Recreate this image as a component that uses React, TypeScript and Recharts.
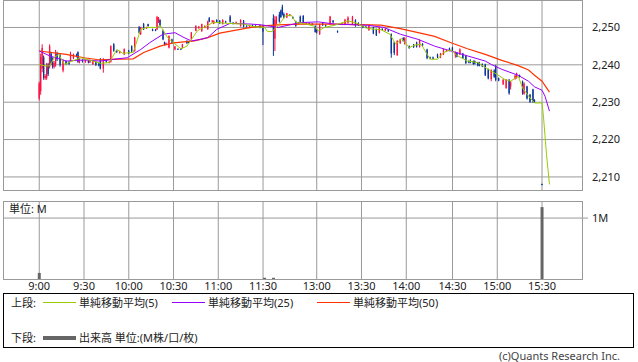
import { Bar, CartesianGrid, ComposedChart, Line, XAxis, YAxis } from 'recharts';

const timeLabels = ['9:00', '9:30', '10:00', '10:30', '11:00', '11:30', '13:00', '13:30', '14:00', '14:30', '15:00', '15:30'];
const timeSlots = [0, 30, 60, 90, 120, 150, 186, 216, 246, 277, 307, 337];
const priceTicks = [2210, 2220, 2230, 2240, 2250];
const slotDomain: [number, number] = [-24.3, 363.8];
const priceDomain: [number, number] = [2206.5, 2257.35];

// [slot, open, high, low, close]
const amCandles: number[][] = [
  [0, 2231, 2235.5, 2230.5, 2235], [1, 2233, 2243, 2232, 2242], [2, 2239, 2245.5, 2238, 2244.5],
  [3, 2242, 2242.5, 2236, 2236.5], [4, 2236.5, 2237.5, 2236, 2237], [5, 2236.5, 2240.5, 2236, 2240],
  [6, 2240, 2240.5, 2237, 2237.5], [7, 2239.5, 2245.5, 2239, 2245], [8, 2243, 2243.5, 2240, 2240.5],
  [9, 2241, 2242, 2239, 2239.5], [10, 2239.5, 2241, 2239, 2240.5], [11, 2240, 2244, 2239.5, 2243],
  [12, 2243, 2243.5, 2241, 2241.5], [14, 2242.5, 2243, 2239.5, 2240], [16, 2238.5, 2241.5, 2238, 2241],
  [18, 2241, 2241.2, 2240, 2240.3], [20, 2240.8, 2241, 2240, 2240.2], [21, 2241, 2243.5, 2240.8, 2243],
  [23, 2241.8, 2243, 2241.5, 2242.8], [25, 2242.5, 2243, 2242, 2242.2], [26, 2243.4, 2243.6, 2240.5, 2240.8],
  [27, 2240.6, 2241.8, 2240.4, 2241.5], [29, 2241.2, 2241.5, 2240.6, 2241], [31, 2240.8, 2241.4, 2240.5, 2241.2],
  [33, 2241, 2241.3, 2240.4, 2240.6], [34, 2240.6, 2241.4, 2240.5, 2241.2], [36, 2240.1, 2241.2, 2240, 2241],
  [38, 2240.8, 2241, 2239.7, 2240], [40, 2240.4, 2240.6, 2239.6, 2239.8], [41, 2241.5, 2241.8, 2238.8, 2239],
  [43, 2239, 2241.8, 2237.9, 2241.5], [45, 2241.2, 2241.4, 2240.6, 2240.8], [47, 2240.6, 2241, 2240.4, 2240.8],
  [48, 2240.8, 2245.2, 2240.6, 2245], [50, 2245.5, 2245.8, 2243.5, 2243.8], [52, 2243.8, 2244, 2243.2, 2243.4],
  [54, 2243.2, 2243.8, 2243, 2243.6], [57, 2242.8, 2244.4, 2242.6, 2244.2], [60, 2243.8, 2244, 2242.8, 2243],
  [62, 2245, 2245.2, 2243.2, 2243.6], [64, 2243.7, 2247.5, 2243.5, 2247.3], [67, 2250, 2250.4, 2248.4, 2248.6],
  [68, 2248.2, 2250.2, 2248, 2250], [70, 2250.9, 2251.2, 2249.3, 2249.5], [72, 2249.8, 2250.2, 2249.6, 2250],
  [73, 2250.9, 2251, 2250.2, 2250.4], [76, 2249.5, 2249.7, 2249, 2249.1], [78, 2249.4, 2249.6, 2249, 2249.1],
  [79, 2249.5, 2253.1, 2249.3, 2252.8], [80, 2251.5, 2252.8, 2251.2, 2252.5], [81, 2252, 2252.2, 2250.2, 2250.4],
  [83, 2249.1, 2249.4, 2246.6, 2246.8], [84, 2246, 2246.2, 2245.2, 2245.4], [85, 2245.4, 2246, 2245.2, 2245.8],
  [87, 2244.6, 2247.9, 2244.4, 2247.7], [89, 2246.8, 2247, 2245.6, 2245.9], [91, 2244.1, 2245.1, 2243.9, 2244.9],
  [93, 2244.3, 2244.4, 2244, 2244.1], [95, 2244.3, 2244.4, 2244, 2244.1], [96, 2244.6, 2245.6, 2244.4, 2245.5],
  [99, 2246.4, 2246.6, 2245.6, 2245.8], [100, 2246.2, 2246.4, 2245.8, 2246], [102, 2246.8, 2248.8, 2246.6, 2248.6],
  [105, 2249.1, 2250.6, 2249, 2250.4], [107, 2250, 2250.4, 2249.6, 2250.2], [109, 2249.1, 2251, 2248.8, 2250.9],
  [111, 2250, 2250.6, 2249.8, 2250.4], [113, 2249.5, 2251.8, 2249.4, 2251.6], [114, 2252.5, 2252.8, 2251.4, 2251.6],
  [116, 2251.6, 2252, 2251.2, 2251.8], [117, 2251, 2251.9, 2250.9, 2251.8], [119, 2252, 2252.2, 2251.2, 2251.4],
  [121, 2251.8, 2252, 2250.9, 2251.1], [123, 2250.9, 2252.2, 2250.8, 2252], [125, 2251.6, 2251.8, 2251.2, 2251.3],
  [128, 2252.9, 2253.3, 2251.3, 2251.5], [130, 2251.3, 2251.4, 2250.8, 2251], [132, 2251, 2251.6, 2250.9, 2251.4],
  [135, 2250.4, 2252.2, 2250.2, 2252], [137, 2251.8, 2252, 2250, 2250.2], [139, 2250.4, 2250.6, 2250, 2250.2],
  [141, 2250, 2250.6, 2249.8, 2250.4], [143, 2250.6, 2250.8, 2250.2, 2250.4], [145, 2250.5, 2250.6, 2250, 2250.2],
  [148, 2250.5, 2250.7, 2249.8, 2250], [150, 2250.4, 2250.6, 2245.3, 2248.9],
];

const pmCandles: number[][] = [
  [157, 2252.5, 2253.5, 2242.4, 2249], [158, 2247, 2253.1, 2243.7, 2252], [159, 2251, 2253, 2250.8, 2252.8],
  [161, 2253.5, 2254.2, 2251.3, 2251.6], [162, 2254.5, 2254.8, 2252.5, 2252.8], [163, 2255.5, 2256.1, 2253.2, 2253.6],
  [164, 2253.6, 2254, 2252.4, 2252.7], [166, 2252.7, 2253.9, 2252.5, 2253.8], [168, 2253.2, 2253.6, 2253, 2253.5],
  [170, 2252.8, 2253, 2252.3, 2252.5], [172, 2251.6, 2251.8, 2250.2, 2250.4], [174, 2251, 2251.5, 2250.8, 2251.3],
  [175, 2252.9, 2253.2, 2251.3, 2251.5], [177, 2253.1, 2253.3, 2251.1, 2251.3], [179, 2251.1, 2251.4, 2250.9, 2251.2],
  [181, 2251.1, 2251.3, 2250.7, 2250.9], [183, 2251, 2251.2, 2250.8, 2250.9], [185, 2250.4, 2250.6, 2248.6, 2248.8],
  [186, 2249.5, 2249.7, 2248.4, 2248.7], [188, 2248.2, 2251, 2248, 2250.9], [190, 2251.3, 2251.4, 2250.4, 2250.6],
  [192, 2250.6, 2250.8, 2250.2, 2250.4], [195, 2250.9, 2253.1, 2250.6, 2252.9], [197, 2251.8, 2252, 2251.2, 2251.4],
  [200, 2249, 2249.2, 2248.6, 2248.7], [203, 2250.8, 2251.2, 2250.6, 2251], [205, 2250.9, 2252.3, 2250.6, 2252.1],
  [207, 2251.3, 2253, 2251, 2252.6], [210, 2250.9, 2253.1, 2250.7, 2252.9], [212, 2252, 2252.2, 2250.2, 2250.4],
  [214, 2251.2, 2251.4, 2250.4, 2250.6], [217, 2250.4, 2250.6, 2249.8, 2250], [219, 2250.2, 2250.4, 2249.8, 2250],
  [221, 2249.3, 2250.8, 2249.1, 2250.6], [224, 2250, 2250.2, 2248.2, 2248.4], [226, 2249.5, 2249.7, 2247.7, 2247.9],
  [228, 2248.6, 2250.2, 2248.4, 2250], [230, 2249.6, 2249.8, 2249.2, 2249.4], [232, 2249.2, 2249.8, 2249, 2249.6],
  [234, 2249.4, 2249.6, 2248.8, 2249], [236, 2248.2, 2248.4, 2241.9, 2243], [238, 2246, 2246.2, 2242.6, 2243.2],
  [240, 2242.6, 2246.6, 2242.4, 2246.4], [242, 2245.8, 2247, 2245.6, 2246.8], [244, 2247.2, 2247.4, 2246.2, 2246.4],
  [245, 2245.6, 2247.4, 2245.4, 2247.2], [248, 2245, 2245.2, 2244.3, 2244.5], [251, 2245.4, 2245.6, 2244.5, 2244.8],
  [253, 2246, 2246.2, 2244.6, 2244.8], [255, 2244.8, 2246.8, 2244.6, 2246.6], [257, 2245.6, 2245.8, 2245, 2245.2],
  [260, 2244.1, 2244.3, 2241.5, 2241.8], [262, 2242, 2242.2, 2241.5, 2241.7], [264, 2242, 2242.2, 2241.5, 2241.6],
  [267, 2242.8, 2243, 2241.8, 2242], [269, 2242, 2243.2, 2241.8, 2243], [271, 2242.8, 2244.3, 2242.6, 2244.1],
  [273, 2243.6, 2244, 2243.4, 2243.8], [275, 2244.4, 2244.6, 2243.6, 2243.8], [277, 2244.6, 2244.8, 2243.6, 2243.8],
  [279, 2242.5, 2243.6, 2241.9, 2243.2], [280, 2243.2, 2243.4, 2242, 2242.2], [282, 2242.8, 2244.4, 2242.6, 2244.1],
  [284, 2243, 2243.2, 2241.6, 2241.8], [286, 2242.4, 2242.6, 2240.2, 2240.5], [288, 2241, 2241.2, 2240.4, 2240.6],
  [289, 2241, 2241.5, 2240.4, 2240.6], [291, 2241, 2241.2, 2240, 2240.2], [292, 2241, 2241.2, 2240.1, 2240.3],
  [294, 2240.6, 2240.8, 2239.6, 2239.8], [295, 2240.6, 2240.8, 2239.6, 2239.8], [297, 2240.2, 2240.4, 2239.4, 2239.6],
  [299, 2240.1, 2240.3, 2237, 2237.2], [301, 2238.8, 2239, 2236.1, 2236.4], [303, 2236.2, 2238.8, 2235.6, 2238.6],
  [305, 2238.5, 2238.8, 2236.5, 2236.8], [306, 2239.7, 2240, 2235.6, 2236], [308, 2236.4, 2236.6, 2235.6, 2235.8],
  [311, 2234.8, 2236.2, 2234.6, 2236], [313, 2233.8, 2236.2, 2233.6, 2236], [315, 2236, 2236.2, 2232, 2232.4],
  [316, 2234.2, 2235.7, 2233.4, 2235.4], [319, 2236.3, 2237.3, 2236, 2237.1], [320, 2236.5, 2237.9, 2236.3, 2237.7],
  [322, 2237.2, 2237.4, 2236.6, 2236.8], [324, 2235.6, 2235.8, 2232, 2232.4], [325, 2232.2, 2235.3, 2232, 2235],
  [327, 2234.2, 2234.4, 2230.7, 2231], [329, 2232, 2232.2, 2229.8, 2230.1], [331, 2233.4, 2233.6, 2229.8, 2230.2],
  [332, 2230.6, 2230.8, 2229.8, 2230], [337, 2208.1, 2208.2, 2207.8, 2207.9],
];

const ma5Slots = [0, 4, 7, 10, 13, 17, 22, 28, 36, 41, 47, 52, 56, 63, 68, 72, 79, 81, 86, 90, 95, 99, 106, 112, 117, 126, 137, 144, 151, 153, 156, 160, 165, 169, 172, 177, 184, 187, 191, 198, 207, 213, 220, 229, 235, 239, 243, 248, 252, 256, 262, 267, 271, 276, 280, 287, 294, 301, 307, 312, 316, 321, 324, 328, 332, 337, 338, 339, 340, 341, 342];
const ma5Values = [2240.1, 2239.7, 2239.7, 2241.9, 2242.8, 2240.1, 2241, 2241.9, 2241, 2240.4, 2240.6, 2244.1, 2243.1, 2243.3, 2249.5, 2250, 2250, 2250.6, 2247.3, 2245.9, 2244.3, 2245, 2249.1, 2250.4, 2251.4, 2251.1, 2250.9, 2250.2, 2250, 2248.9, 2248.9, 2250.4, 2253.1, 2253.3, 2251.3, 2251.1, 2250.4, 2249.1, 2250, 2250.6, 2251.8, 2251.1, 2249.7, 2249.4, 2248.2, 2245.5, 2247, 2244.6, 2245.3, 2245.5, 2241.5, 2241.5, 2243.3, 2244, 2242.5, 2241, 2240.6, 2238.8, 2237.4, 2236.1, 2235.6, 2237, 2233.8, 2231.6, 2229.8, 2229.8, 2226, 2221, 2216, 2212, 2208];

const ma25Slots = [0, 7, 18, 30, 41, 50, 59, 68, 74, 83, 91, 97, 102, 108, 113, 119, 128, 142, 149, 160, 175, 187, 198, 220, 231, 242, 254, 265, 276, 287, 299, 303, 310, 321, 328, 332, 337, 339, 342];
const ma25Values = [2243.7, 2242.4, 2241, 2241.3, 2241, 2241.5, 2241.9, 2244.1, 2245.9, 2248.2, 2248.6, 2247.3, 2246.4, 2246.8, 2247.3, 2249.5, 2251.1, 2250.9, 2250.7, 2250, 2251.3, 2251.5, 2250.9, 2250.6, 2250, 2248.2, 2246.8, 2245, 2243.7, 2242.4, 2241, 2240.1, 2238.8, 2237.2, 2235.6, 2234.1, 2233.2, 2231.6, 2227.6];

const ma50Slots = [0, 18, 30, 41, 54, 63, 70, 81, 90, 104, 113, 121, 142, 150, 160, 175, 198, 229, 242, 254, 265, 276, 287, 299, 310, 321, 328, 332, 337, 342];
const ma50Values = [2243.7, 2242.8, 2241.9, 2241.3, 2241.5, 2241.6, 2243.3, 2245, 2245.9, 2246.4, 2247.3, 2248.5, 2250, 2250.4, 2250.7, 2250.9, 2250.9, 2250.6, 2249.7, 2248.6, 2247.6, 2245.9, 2244.3, 2242.8, 2241.2, 2239.8, 2238.6, 2237.2, 2235.6, 2232.7];

const volumeSlots = [0, 151, 157, 337];
const volumeValues = [0.1, 0.02, 0.02, 1.18];

const UP = '#ff1040';
const DOWN = '#0a3399';
const GRID = '#9a9a9a';

type Row = { slot: number; range?: [number, number]; o?: number; c?: number; ma5?: number; ma25?: number; ma50?: number };

const rowMap = new Map<number, Row>();
const rowAt = (s: number) => {
  let r = rowMap.get(s);
  if (!r) {
    r = { slot: s };
    rowMap.set(s, r);
  }
  return r;
};
[...amCandles, ...pmCandles].forEach(([s, o, h, l, c]) => {
  const r = rowAt(s);
  r.range = [l, h];
  r.o = o;
  r.c = c;
});
ma5Slots.forEach((s, i) => (rowAt(s).ma5 = ma5Values[i]));
ma25Slots.forEach((s, i) => (rowAt(s).ma25 = ma25Values[i]));
ma50Slots.forEach((s, i) => (rowAt(s).ma50 = ma50Values[i]));
const priceRows = [...rowMap.values()].sort((a, b) => a.slot - b.slot);

const volumeRows = volumeSlots.map((s, i) => ({ slot: s, vol: volumeValues[i] }));

function Candle(props: any) {
  const { x, y, width, height, payload } = props;
  if (!payload || payload.o == null || payload.range == null) return null;
  const [lo, hi] = payload.range;
  const top = Math.min(y, y + height);
  const h = Math.abs(height);
  const py = (v: number) => (hi === lo ? top : top + ((hi - v) / (hi - lo)) * h);
  const color = payload.c >= payload.o ? UP : DOWN;
  const cx = x + width / 2;
  const bTop = py(Math.max(payload.o, payload.c));
  const bBot = py(Math.min(payload.o, payload.c));
  return (
    <g>
      <line x1={cx} x2={cx} y1={top} y2={top + Math.max(h, 1)} stroke={color} strokeWidth={1} />
      <rect x={x} y={bTop} width={width} height={Math.max(1, bBot - bTop)} fill={color} />
    </g>
  );
}

const slotLabel = (v: number) => {
  const i = timeSlots.indexOf(v);
  return i >= 0 ? timeLabels[i] : '';
};

const tickStyle = { fontSize: 11, fill: '#222' };

export default function App() {
  return (
    <div
      style={{
        position: 'absolute',
        left: 0,
        top: 0,
        width: 638,
        height: 362,
        background: '#fff',
        fontFamily: '"Noto Sans", "Noto Sans CJK JP", sans-serif',
        color: '#222',
        fontSize: 11,
      }}
    >
      <div style={{ position: 'absolute', left: 0, top: 0 }}>
        <ComposedChart width={638} height={191} data={priceRows} margin={{ top: 0, right: 0, bottom: 1, left: 3 }}>
          <CartesianGrid stroke={GRID} verticalValues={timeSlots} horizontalValues={priceTicks} />
          <XAxis dataKey="slot" type="number" domain={slotDomain} ticks={timeSlots} hide allowDataOverflow />
          <YAxis
            orientation="right"
            width={56}
            domain={priceDomain}
            ticks={priceTicks}
            allowDataOverflow
            axisLine={false}
            tickLine={false}
            tickSize={6}
            tickMargin={4}
            tick={{ ...tickStyle, textAnchor: 'start' }}
            tickFormatter={(v) => v.toLocaleString('en-US')}
          />
          <Bar dataKey="range" barSize={2} shape={<Candle />} isAnimationActive={false} />
          <Line type="linear" dataKey="ma50" stroke="#ff3300" strokeWidth={1.2} dot={false} connectNulls isAnimationActive={false} />
          <Line type="linear" dataKey="ma25" stroke="#9900ff" strokeWidth={1} dot={false} connectNulls isAnimationActive={false} />
          <Line type="linear" dataKey="ma5" stroke="#99cc00" strokeWidth={1} dot={false} connectNulls isAnimationActive={false} />
        </ComposedChart>
        <div style={{ position: 'absolute', left: 3, top: 0, width: 580, height: 191, border: `1px solid ${GRID}`, boxSizing: 'border-box', pointerEvents: 'none' }} />
      </div>

      <div style={{ position: 'absolute', left: 0, top: 201 }}>
        <ComposedChart width={638} height={100} data={volumeRows} margin={{ top: 0, right: 0, bottom: 0, left: 3 }}>
          <CartesianGrid stroke={GRID} verticalValues={timeSlots} horizontalValues={[1]} />
          <XAxis
            dataKey="slot"
            type="number"
            domain={slotDomain}
            ticks={timeSlots}
            interval={0}
            allowDataOverflow
            height={22}
            axisLine={false}
            tickLine={false}
            tickSize={0}
            tickMargin={3}
            tick={tickStyle}
            tickFormatter={slotLabel}
          />
          <YAxis
            orientation="right"
            width={56}
            domain={[0, 1.28]}
            ticks={[1]}
            allowDataOverflow
            axisLine={false}
            tickLine={{ stroke: GRID }}
            tickSize={6}
            tickMargin={4}
            tick={{ ...tickStyle, textAnchor: 'start' }}
            tickFormatter={() => '1M'}
          />
          <Bar dataKey="vol" barSize={3} fill="#666" isAnimationActive={false} />
        </ComposedChart>
        <div style={{ position: 'absolute', left: 3, top: 0, width: 580, height: 79, border: `1px solid ${GRID}`, boxSizing: 'border-box', pointerEvents: 'none' }} />
        <div style={{ position: 'absolute', left: 9, top: 0, lineHeight: '15px' }}>単位: M</div>
      </div>

      <div style={{ position: 'absolute', left: 3, top: 293, width: 631, height: 55, border: '1px solid #000', boxSizing: 'border-box' }}>
        <div style={{ position: 'absolute', left: 7, top: 1, lineHeight: '15px' }}>上段:</div>
        <div style={{ position: 'absolute', left: 39, top: 8, width: 33, height: 1, background: '#99cc00' }} />
        <div style={{ position: 'absolute', left: 75, top: 1, lineHeight: '15px' }}>単純移動平均(5)</div>
        <div style={{ position: 'absolute', left: 168, top: 8, width: 33, height: 1, background: '#9900ff' }} />
        <div style={{ position: 'absolute', left: 204, top: 1, lineHeight: '15px' }}>単純移動平均(25)</div>
        <div style={{ position: 'absolute', left: 313, top: 8, width: 33, height: 1, background: '#ff3300' }} />
        <div style={{ position: 'absolute', left: 349, top: 1, lineHeight: '15px' }}>単純移動平均(50)</div>
        <div style={{ position: 'absolute', left: 7, top: 36, lineHeight: '15px' }}>下段:</div>
        <div style={{ position: 'absolute', left: 39, top: 42, width: 33, height: 4, background: '#666' }} />
        <div style={{ position: 'absolute', left: 75, top: 36, lineHeight: '15px' }}>出来高 単位:(M株/口/枚)</div>
      </div>

      <div style={{ position: 'absolute', right: 18, top: 349, lineHeight: '14px', color: '#444' }}>(c)Quants Research Inc.</div>
    </div>
  );
}
